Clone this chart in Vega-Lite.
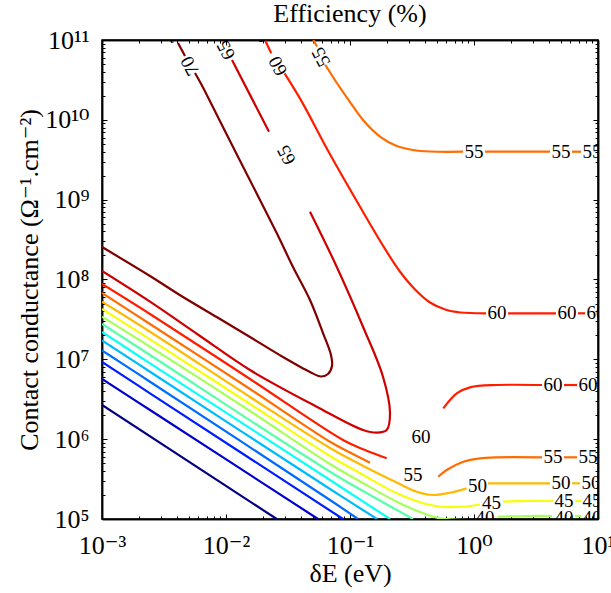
{
  "$schema": "https://vega.github.io/schema/vega-lite/v6.json",
  "width": 496,
  "height": 479,
  "autosize": {"type": "none"},
  "padding": {"left": 102, "top": 40, "right": 13, "bottom": 74},
  "background": "white",
  "config": {
    "view": {"stroke": "black", "strokeWidth": 1.5},
    "font": "Liberation Serif",
    "axis": {"grid": false, "minExtent": 0, "domainColor": "black", "domainWidth": 1.5, "tickColor": "black", "tickWidth": 1, "labelColor": "black", "titleColor": "black", "labelFont": "Liberation Serif, DejaVu Serif, serif", "titleFont": "Liberation Serif, DejaVu Serif, serif", "labelFontSize": 26, "titleFontSize": 26, "titleFontWeight": "normal", "labelFlush": false, "labelOverlap": false}
  },
  "title": {"text": "Efficiency (%)", "font": "Liberation Serif", "fontSize": 26, "fontWeight": "normal", "color": "black", "anchor": "middle", "baseline": "bottom", "offset": -26},
  "datasets": {
    "lines": [
      {"c":5,"s":"5a","i":0,"x":0.001,"y":2.678e6},{"c":5,"s":"5a","i":1,"x":0.02564,"y":1e5},
      {"c":10,"s":"10a","i":0,"x":0.001,"y":5.668e6},{"c":10,"s":"10a","i":1,"x":0.002438,"y":2.318e6},{"c":10,"s":"10a","i":2,"x":0.0552,"y":1e5},
      {"c":15,"s":"15a","i":0,"x":0.001,"y":9.26e6},{"c":15,"s":"15a","i":1,"x":0.002438,"y":3.753e6},{"c":15,"s":"15a","i":2,"x":0.0878,"y":1e5},
      {"c":20,"s":"20a","i":0,"x":0.001,"y":1.29e7},{"c":20,"s":"20a","i":1,"x":0.002438,"y":5.243e6},{"c":20,"s":"20a","i":2,"x":0.06897,"y":1.729e5},{"c":20,"s":"20a","i":3,"x":0.116,"y":1e5},
      {"c":25,"s":"25a","i":0,"x":0.001,"y":1.72e7},{"c":25,"s":"25a","i":1,"x":0.002438,"y":6.997e6},{"c":25,"s":"25a","i":2,"x":0.06897,"y":2.374e5},{"c":25,"s":"25a","i":3,"x":0.1651,"y":1e5},
      {"c":30,"s":"30a","i":0,"x":0.001,"y":2.199e7},{"c":30,"s":"30a","i":1,"x":0.002438,"y":8.915e6},{"c":30,"s":"30a","i":2,"x":0.06897,"y":3.078e5},{"c":30,"s":"30a","i":3,"x":0.2102,"y":1e5},
      {"c":35,"s":"35a","i":0,"x":0.001,"y":2.77e7},{"c":35,"s":"35a","i":1,"x":0.002438,"y":1.133e7},{"c":35,"s":"35a","i":2,"x":0.06897,"y":3.911e5},{"c":35,"s":"35a","i":3,"x":0.145,"y":1.998e5},{"c":35,"s":"35a","i":4,"x":0.3222,"y":1e5},
      {"c":40,"s":"40a","i":0,"x":0.001,"y":3.42e7},{"c":40,"s":"40a","i":1,"x":0.002438,"y":1.439e7},{"c":40,"s":"40a","i":2,"x":0.01562,"y":2.252e6},{"c":40,"s":"40a","i":3,"x":0.06897,"y":4.884e5},{"c":40,"s":"40a","i":4,"x":0.128,"y":2.799e5},{"c":40,"s":"40a","i":5,"x":0.2381,"y":1.646e5},{"c":40,"s":"40a","i":6,"x":0.3901,"y":1.178e5},{"c":40,"s":"40a","i":7,"x":0.5318,"y":1.02e5},{"c":40,"s":"40a","i":8,"x":1.0,"y":9.71e4},
      {"c":40,"s":"40b","i":0,"x":1.562,"y":1.068e5},{"c":40,"s":"40b","i":1,"x":2.829,"y":1.09e5},{"c":40,"s":"40b","i":2,"x":4.256,"y":1.09e5},
      {"c":40,"s":"40c","i":0,"x":6.524,"y":1.09e5},{"c":40,"s":"40c","i":1,"x":7.294,"y":1.09e5},
      {"c":45,"s":"45a","i":0,"x":0.001,"y":4.269e7},{"c":45,"s":"45a","i":1,"x":0.002438,"y":1.781e7},{"c":45,"s":"45a","i":2,"x":0.01562,"y":2.756e6},{"c":45,"s":"45a","i":3,"x":0.06897,"y":6.15e5},{"c":45,"s":"45a","i":4,"x":0.128,"y":3.556e5},{"c":45,"s":"45a","i":5,"x":0.2381,"y":2.098e5},{"c":45,"s":"45a","i":6,"x":0.3901,"y":1.572e5},{"c":45,"s":"45a","i":7,"x":0.5318,"y":1.425e5},{"c":45,"s":"45a","i":8,"x":0.82,"y":1.425e5},{"c":45,"s":"45a","i":9,"x":1.118,"y":1.519e5},
      {"c":45,"s":"45b","i":0,"x":1.714,"y":1.655e5},{"c":45,"s":"45b","i":1,"x":2.829,"y":1.68e5},{"c":45,"s":"45b","i":2,"x":4.336,"y":1.68e5},
      {"c":45,"s":"45c","i":0,"x":6.524,"y":1.68e5},{"c":45,"s":"45c","i":1,"x":7.294,"y":1.68e5},
      {"c":50,"s":"50a","i":0,"x":0.001,"y":5.271e7},{"c":50,"s":"50a","i":1,"x":0.002438,"y":2.218e7},{"c":50,"s":"50a","i":2,"x":0.01562,"y":3.373e6},{"c":50,"s":"50a","i":3,"x":0.06897,"y":7.748e5},{"c":50,"s":"50a","i":4,"x":0.128,"y":4.61e5},{"c":50,"s":"50a","i":5,"x":0.2381,"y":2.864e5},{"c":50,"s":"50a","i":6,"x":0.3451,"y":2.196e5},{"c":50,"s":"50a","i":7,"x":0.4697,"y":1.998e5},{"c":50,"s":"50a","i":8,"x":0.6405,"y":2.134e5},{"c":50,"s":"50a","i":9,"x":0.8731,"y":2.422e5},
      {"c":50,"s":"50b","i":0,"x":1.297,"y":2.799e5},{"c":50,"s":"50b","i":1,"x":2.829,"y":2.799e5},{"c":50,"s":"50b","i":2,"x":4.102,"y":2.799e5},
      {"c":50,"s":"50c","i":0,"x":6.17,"y":2.799e5},{"c":50,"s":"50c","i":1,"x":7.158,"y":2.799e5},
      {"c":55,"s":"55a","i":0,"x":0.001,"y":6.773e7},{"c":55,"s":"55a","i":1,"x":0.002438,"y":2.77e7},{"c":55,"s":"55a","i":2,"x":0.01562,"y":4.248e6},{"c":55,"s":"55a","i":3,"x":0.06897,"y":9.29e5},{"c":55,"s":"55a","i":4,"x":0.1,"y":6.805e5},{"c":55,"s":"55a","i":5,"x":0.145,"y":5.07e5},
      {"c":55,"s":"55b","i":0,"x":0.5153,"y":3.385e5},{"c":55,"s":"55b","i":1,"x":0.6023,"y":4.108e5},{"c":55,"s":"55b","i":2,"x":0.82,"y":5.218e5},{"c":55,"s":"55b","i":3,"x":1.118,"y":5.756e5},{"c":55,"s":"55b","i":4,"x":1.525,"y":5.924e5},{"c":55,"s":"55b","i":5,"x":3.535,"y":5.924e5},
      {"c":55,"s":"55c","i":0,"x":5.317,"y":5.924e5},{"c":55,"s":"55c","i":1,"x":6.769,"y":5.924e5},
      {"c":55,"s":"55d","i":0,"x":0.0506,"y":1e11},{"c":55,"s":"55d","i":1,"x":0.0542,"y":8.3e10},
      {"c":55,"s":"55e","i":0,"x":0.0631,"y":4.9e10},{"c":55,"s":"55e","i":1,"x":0.0791,"y":2.83e10},{"c":55,"s":"55e","i":2,"x":0.1,"y":1.67e10},{"c":55,"s":"55e","i":3,"x":0.1273,"y":9.95e9},{"c":55,"s":"55e","i":4,"x":0.1745,"y":6.17e9},{"c":55,"s":"55e","i":5,"x":0.2381,"y":4.69e9},{"c":55,"s":"55e","i":6,"x":0.3222,"y":4.19e9},{"c":55,"s":"55e","i":7,"x":0.4418,"y":4.01e9},{"c":55,"s":"55e","i":8,"x":0.815,"y":3.989e9},
      {"c":55,"s":"55f","i":0,"x":1.227,"y":3.989e9},{"c":55,"s":"55f","i":1,"x":4.102,"y":3.989e9},
      {"c":55,"s":"55g","i":0,"x":6.17,"y":3.989e9},{"c":55,"s":"55g","i":1,"x":7.294,"y":3.989e9},
      {"c":60,"s":"60a","i":0,"x":0.001,"y":8.78e7},{"c":60,"s":"60a","i":1,"x":0.002438,"y":3.697e7},{"c":60,"s":"60a","i":2,"x":0.01562,"y":5.668e6},{"c":60,"s":"60a","i":3,"x":0.0878,"y":9.76e5},{"c":60,"s":"60a","i":4,"x":0.1321,"y":7.313e5},{"c":60,"s":"60a","i":5,"x":0.1977,"y":5.756e5},
      {"c":60,"s":"60b","i":0,"x":0.5654,"y":2.434e6},{"c":60,"s":"60b","i":1,"x":0.7254,"y":3.753e6},{"c":60,"s":"60b","i":2,"x":0.9284,"y":4.461e6},{"c":60,"s":"60b","i":3,"x":1.525,"y":4.768e6},{"c":60,"s":"60b","i":4,"x":3.535,"y":4.768e6},
      {"c":60,"s":"60c","i":0,"x":5.317,"y":4.768e6},{"c":60,"s":"60c","i":1,"x":6.769,"y":4.768e6},
      {"c":60,"s":"60d","i":0,"x":0.02063,"y":1e11},{"c":60,"s":"60d","i":1,"x":0.02318,"y":6.814e10},
      {"c":60,"s":"60e","i":0,"x":0.02968,"y":3.827e10},{"c":60,"s":"60e","i":1,"x":0.04064,"y":1.717e10},{"c":60,"s":"60e","i":2,"x":0.06897,"y":3.7e9},{"c":60,"s":"60e","i":3,"x":0.1202,"y":8.2e8},{"c":60,"s":"60e","i":4,"x":0.1905,"y":2.45e8},{"c":60,"s":"60e","i":5,"x":0.2525,"y":1.26e8},{"c":60,"s":"60e","i":6,"x":0.3346,"y":7.5e7},{"c":60,"s":"60e","i":7,"x":0.4418,"y":5.15e7},{"c":60,"s":"60e","i":8,"x":0.5861,"y":4.2e7},{"c":60,"s":"60e","i":9,"x":0.7766,"y":3.86e7},{"c":60,"s":"60e","i":10,"x":1.249,"y":3.772e7},
      {"c":60,"s":"60f","i":0,"x":1.88,"y":3.772e7},{"c":60,"s":"60f","i":1,"x":4.584,"y":3.772e7},
      {"c":60,"s":"60g","i":0,"x":6.897,"y":3.772e7},{"c":60,"s":"60g","i":1,"x":7.855,"y":3.772e7},
      {"c":65,"s":"65a","i":0,"x":0.01118,"y":5.617e10},{"c":65,"s":"65a","i":1,"x":0.02222,"y":7.099e9},
      {"c":65,"s":"65b","i":0,"x":0.04757,"y":7.068e8},{"c":65,"s":"65b","i":1,"x":0.0781,"y":1.446e8},{"c":65,"s":"65b","i":2,"x":0.1273,"y":2.563e7},{"c":65,"s":"65b","i":3,"x":0.1845,"y":6.058e6},{"c":65,"s":"65b","i":4,"x":0.2102,"y":2.126e6},{"c":65,"s":"65b","i":5,"x":0.1977,"y":1.302e6},{"c":65,"s":"65b","i":6,"x":0.1651,"y":1.205e6},{"c":65,"s":"65b","i":7,"x":0.1273,"y":1.302e6},{"c":65,"s":"65b","i":8,"x":0.0539,"y":2.55e6},{"c":65,"s":"65b","i":9,"x":0.01562,"y":7.348e6},{"c":65,"s":"65b","i":10,"x":0.00617,"y":1.96e7},{"c":65,"s":"65b","i":11,"x":0.002438,"y":5.271e7},{"c":65,"s":"65b","i":12,"x":0.001,"y":1.277e8},
      {"c":70,"s":"70a","i":0,"x":0.004102,"y":9.17e10},{"c":70,"s":"70a","i":1,"x":0.00467,"y":6.304e10},
      {"c":70,"s":"70b","i":0,"x":0.005623,"y":3.86e10},{"c":70,"s":"70b","i":1,"x":0.006368,"y":2.731e10},{"c":70,"s":"70b","i":2,"x":0.008845,"y":9.95e9},{"c":70,"s":"70b","i":3,"x":0.0188,"y":9.9e8},{"c":70,"s":"70b","i":4,"x":0.02564,"y":3.823e8},{"c":70,"s":"70b","i":5,"x":0.0347,"y":1.434e8},{"c":70,"s":"70b","i":6,"x":0.04757,"y":5.536e7},{"c":70,"s":"70b","i":7,"x":0.06057,"y":2.136e7},{"c":70,"s":"70b","i":8,"x":0.07025,"y":1.133e7},{"c":70,"s":"70b","i":9,"x":0.07158,"y":8.25e6},{"c":70,"s":"70b","i":10,"x":0.06645,"y":6.549e6},{"c":70,"s":"70b","i":11,"x":0.05835,"y":6.093e6},{"c":70,"s":"70b","i":12,"x":0.04757,"y":6.937e6},{"c":70,"s":"70b","i":13,"x":0.02881,"y":1.069e7},{"c":70,"s":"70b","i":14,"x":0.01562,"y":1.904e7},{"c":70,"s":"70b","i":15,"x":0.008414,"y":3.39e7},{"c":70,"s":"70b","i":16,"x":0.0045,"y":6.036e7},{"c":70,"s":"70b","i":17,"x":0.002438,"y":1.106e8},{"c":70,"s":"70b","i":18,"x":0.001,"y":2.553e8}
    ],
    "hl": [
      {"t":"60","x":0.3737,"y":1.073e6},{"t":"55","x":0.3222,"y":3.556e5},{"t":"50","x":1.067,"y":2.589e5},{"t":"45","x":1.384,"y":1.586e5},
      {"t":"40","x":1.227,"y":1.029e5},{"t":"40","x":5.317,"y":1.029e5},{"t":"40","x":8.946,"y":1.029e5},
      {"t":"45","x":5.317,"y":1.68e5},{"t":"45","x":8.946,"y":1.68e5},
      {"t":"50","x":5.03,"y":2.799e5},{"t":"50","x":8.78,"y":2.799e5},
      {"t":"55","x":4.336,"y":5.924e5},{"t":"55","x":8.305,"y":5.924e5},
      {"t":"60","x":4.336,"y":4.768e6},{"t":"60","x":8.305,"y":4.768e6},
      {"t":"60","x":1.533,"y":3.772e7},{"t":"60","x":5.623,"y":3.772e7},{"t":"60","x":9.636,"y":3.772e7},
      {"t":"55","x":1.0,"y":3.989e9},{"t":"55","x":5.03,"y":3.989e9},{"t":"55","x":8.946,"y":3.989e9}
    ],
    "rl": [
      {"t":"70","x":0.005125,"y":4.724e10},{"t":"65","x":0.01,"y":7.494e10},{"t":"65","x":0.03075,"y":3.626e9},{"t":"60","x":0.02627,"y":4.724e10},{"t":"55","x":0.05835,"y":6.124e10}
    ],
    "cl": [
      {"t":"70","x":0.003764,"y":1.224e11},{"t":"60","x":0.01915,"y":1.224e11}
    ]
  },
  "layer": [
    {
      "data": {"name": "lines"},
      "mark": {"type": "line", "strokeWidth": 2.2, "clip": true, "interpolate": "catmull-rom"},
      "encoding": {
        "x": {"field": "x", "type": "quantitative", "scale": {"type": "log", "domain": [0.001, 10], "nice": false},
          "axis": {"orient": "bottom", "values": [0.001, 0.01, 0.1, 1, 10], "tickSize": -5, "labelPadding": 18,
            "labelExpr": "datum.value < 0.005 ? '10⁻³' : datum.value < 0.05 ? '10⁻²' : datum.value < 0.5 ? '10⁻¹' : datum.value < 5 ? '10⁰' : '10¹'",
            "title": "δE (eV)", "titlePadding": 2}},
        "y": {"field": "y", "type": "quantitative", "scale": {"type": "log", "domain": [100000, 100000000000], "nice": false},
          "axis": {"orient": "left", "values": [1e5, 1e6, 1e7, 1e8, 1e9, 1e10, 1e11], "tickSize": -5, "labelPadding": 18,
            "labelExpr": "datum.value < 5e5 ? '10⁵' : datum.value < 5e6 ? '10⁶' : datum.value < 5e7 ? '10⁷' : datum.value < 5e8 ? '10⁸' : datum.value < 5e9 ? '10⁹' : datum.value < 5e10 ? '10¹⁰' : '10¹¹'",
            "title": "Contact conductance (Ω⁻¹.cm⁻²)", "titlePadding": 2}},
        "color": {"field": "c", "type": "ordinal", "legend": null,
          "scale": {"domain": [5,10,15,20,25,30,35,40,45,50,55,60,65,70],
            "range": ["#000080","#0000ce","#001dff","#006cff","#00baff","#0afff5","#58ffa7","#a7ff58","#f5ff0a","#ffba00","#ff6c00","#ff1d00","#ce0000","#800000"]}},
        "detail": {"field": "s", "type": "nominal"},
        "order": {"field": "i", "type": "quantitative"}
      }
    },
    {
      "data": {"name": "hl"},
      "mark": {"type": "text", "font": "Liberation Serif", "fontSize": 19, "color": "black", "clip": true, "align": "center", "baseline": "middle"},
      "encoding": {
        "x": {"field": "x", "type": "quantitative", "scale": {"type": "log", "domain": [0.001, 10], "nice": false},
          "axis": {"orient": "bottom", "values": [0.002,0.003,0.004,0.005,0.006,0.007,0.008,0.009,0.02,0.03,0.04,0.05,0.06,0.07,0.08,0.09,0.2,0.3,0.4,0.5,0.6,0.7,0.8,0.9,2,3,4,5,6,7,8,9], "tickSize": -3, "labels": false, "title": null}},
        "y": {"field": "y", "type": "quantitative", "scale": {"type": "log", "domain": [100000, 100000000000], "nice": false},
          "axis": {"orient": "left", "values": [2e5,3e5,4e5,5e5,6e5,7e5,8e5,9e5,2e6,3e6,4e6,5e6,6e6,7e6,8e6,9e6,2e7,3e7,4e7,5e7,6e7,7e7,8e7,9e7,2e8,3e8,4e8,5e8,6e8,7e8,8e8,9e8,2e9,3e9,4e9,5e9,6e9,7e9,8e9,9e9,2e10,3e10,4e10,5e10,6e10,7e10,8e10,9e10], "tickSize": -3, "labels": false, "title": null}},
        "text": {"field": "t", "type": "nominal"}
      }
    },
    {
      "data": {"name": "rl"},
      "mark": {"type": "text", "font": "Liberation Serif", "fontSize": 19, "color": "black", "clip": true, "align": "center", "baseline": "middle", "angle": 243},
      "encoding": {
        "x": {"field": "x", "type": "quantitative", "scale": {"type": "log", "domain": [0.001, 10], "nice": false},
          "axis": {"orient": "top", "values": [0.001, 0.01, 0.1, 1, 10], "tickSize": -5, "labels": false, "title": null}},
        "y": {"field": "y", "type": "quantitative", "scale": {"type": "log", "domain": [100000, 100000000000], "nice": false},
          "axis": {"orient": "right", "values": [1e5, 1e6, 1e7, 1e8, 1e9, 1e10, 1e11], "tickSize": -5, "labels": false, "title": null}},
        "text": {"field": "t", "type": "nominal"}
      }
    },
    {
      "data": {"name": "cl"},
      "mark": {"type": "text", "font": "Liberation Serif", "fontSize": 19, "color": "black", "clip": true, "align": "center", "baseline": "middle", "angle": 243},
      "encoding": {
        "x": {"field": "x", "type": "quantitative", "scale": {"type": "log", "domain": [0.001, 10], "nice": false},
          "axis": {"orient": "top", "values": [0.002,0.003,0.004,0.005,0.006,0.007,0.008,0.009,0.02,0.03,0.04,0.05,0.06,0.07,0.08,0.09,0.2,0.3,0.4,0.5,0.6,0.7,0.8,0.9,2,3,4,5,6,7,8,9], "tickSize": -3, "labels": false, "title": null}},
        "y": {"field": "y", "type": "quantitative", "scale": {"type": "log", "domain": [100000, 100000000000], "nice": false},
          "axis": {"orient": "right", "values": [2e5,3e5,4e5,5e5,6e5,7e5,8e5,9e5,2e6,3e6,4e6,5e6,6e6,7e6,8e6,9e6,2e7,3e7,4e7,5e7,6e7,7e7,8e7,9e7,2e8,3e8,4e8,5e8,6e8,7e8,8e8,9e8,2e9,3e9,4e9,5e9,6e9,7e9,8e9,9e9,2e10,3e10,4e10,5e10,6e10,7e10,8e10,9e10], "tickSize": -3, "labels": false, "title": null}},
        "text": {"field": "t", "type": "nominal"}
      }
    }
  ],
  "resolve": {"axis": {"x": "independent", "y": "independent"}}
}
